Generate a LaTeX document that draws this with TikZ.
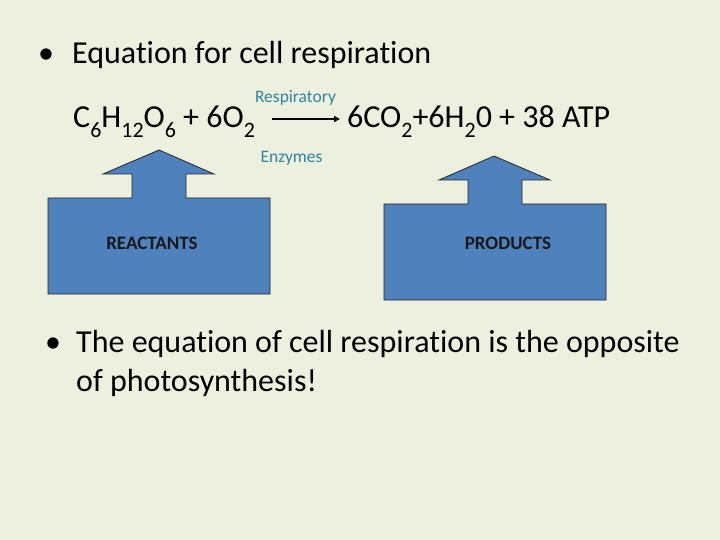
\documentclass[tikz,border=0pt]{standalone}
\usepackage{fontspec}
\setmainfont{Carlito}[Ligatures=NoCommon]
\usetikzlibrary{arrows.meta,positioning}
\definecolor{slidebg}{HTML}{EBF0DF}
\definecolor{boxblue}{HTML}{4F81BD}
\definecolor{enzblue}{HTML}{31859C}
\newcommand{\sbs}[1]{\raisebox{-0.3em}{\fontsize{22}{22}\selectfont #1}}

\begin{document}
\begin{tikzpicture}[x=1pt, y=-1pt, every node/.style={inner sep=0pt}]
\tikzset{big/.style={font=\fontsize{32}{38}\selectfont, anchor=base west}}
\tikzset{small/.style={font=\fontsize{17.5}{20}\selectfont, text=enzblue}}
\tikzset{block/.style={draw=black!85, fill=boxblue, line width=0.8pt}}
\tikzset{lbl/.style={font=\fontsize{19}{22}\selectfont\bfseries, text=black!90}}
\fill[slidebg] (0,0) rectangle (720,540);
\useasboundingbox (0,0) rectangle (720,540);
% heading
\node[big] (dot1) at (38,64) {\textbullet};
\node[big] (head) at (72,64) {Equation for cell respiration};
% equation
\node[big] (lhs) at (73,128) {C\sbs{6}H\sbs{12}O\sbs{6} + 6O\sbs{2}};
\node[big] (rhs) at (347,128) {6CO\sbs{2}+6H\sbs{2}0 + 38 ATP};
\coordinate (a1) at (272,119);
\coordinate (a2) at (340,119);
\draw[line width=2pt, -{Triangle[length=6pt,width=6pt]}] (a1) -- (a2);
\node[small] (resp) at (295.5,98) {Respiratory};
\node[small] (enz) at (291.5,158) {Enzymes};
% block arrows
\draw[block] (48,294) -- (48,198) -- (132,198) -- (132,174) -- (103,174) -- (159,150)
  -- (214,174) -- (186,174) -- (186,198) -- (270,198) -- (270,294) -- cycle;
\node[lbl] (react) at (152,243) {REACTANTS};
\draw[block] (384,300) -- (384,204) -- (468,204) -- (468,180) -- (439,180) -- (494,156)
  -- (550,180) -- (522,180) -- (522,204) -- (606,204) -- (606,300) -- cycle;
\node[lbl] (prod) at (508,243) {PRODUCTS};
% closing note
\node[big] (dot2) at (45,352) {\textbullet};
\node[big] (note1) at (76,352) {The equation of cell respiration is the opposite};
\node[big] (note2) at (76,391) {of photosynthesis!};
\end{tikzpicture}
\end{document}
